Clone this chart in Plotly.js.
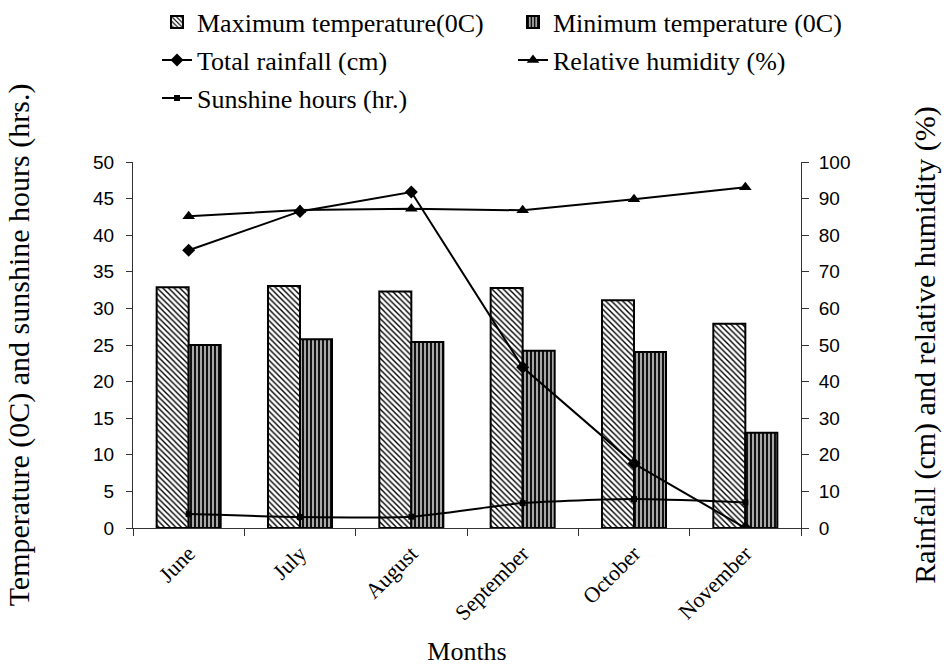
<!DOCTYPE html>
<html>
<head>
<meta charset="utf-8">
<script src="https://cdn.plot.ly/plotly-3.0.1.min.js"></script>
<style>html,body{margin:0;padding:0;background:#fff;}#chart{width:949px;height:666px;}</style>
</head>
<body>
<div id="chart"></div>
<script>
const months = ["June", "July", "August", "September", "October", "November"];
const maxTemp = [32.9, 33.05, 32.3, 32.8, 31.1, 27.9];
const minTemp = [25.0, 25.8, 25.4, 24.2, 24.05, 13.0];
const rainfall = [75.9, 86.5, 91.8, 43.9, 17.6, 0];
const humidity = [85.2, 86.9, 87.2, 86.8, 89.8, 93.1];
const sunshine = [1.9, 1.5, 1.55, 3.4, 3.95, 3.5];

const serif = "'Liberation Serif', 'Times New Roman', serif";
const sans = "'Liberation Sans', Arial, sans-serif";

const traces = [
  {type: "bar", name: "Maximum temperature(0C)", x: months, y: maxTemp, yaxis: "y", legend: "legend",
   marker: {color: "#ffffff", line: {color: "#000", width: 2},
            pattern: {shape: "\\", fgcolor: "#000", bgcolor: "#ffffff", size: 4, solidity: 0.35}}},
  {type: "bar", name: "Minimum temperature (0C)", x: months, y: minTemp, yaxis: "y", legend: "legend2",
   marker: {color: "#999", line: {color: "#000", width: 2},
            pattern: {shape: "|", fgcolor: "#000", bgcolor: "#a8a8a8", size: 4, solidity: 0.45}}},
  {type: "scatter", mode: "lines+markers", name: "Total rainfall (cm)", x: months, y: rainfall, yaxis: "y2", legend: "legend3",
   line: {color: "#000", width: 2}, marker: {symbol: "diamond", size: 10, color: "#000"}},
  {type: "scatter", mode: "lines+markers", name: "Relative humidity (%)", x: months, y: humidity, yaxis: "y2", legend: "legend4",
   line: {color: "#000", width: 2}, marker: {symbol: "triangle-up", size: 11, color: "#000"}},
  {type: "scatter", mode: "lines+markers", name: "Sunshine hours (hr.)", x: months, y: sunshine, yaxis: "y", legend: "legend5",
   line: {color: "#000", width: 2, shape: "spline", smoothing: 0.6}, marker: {symbol: "square", size: 6, color: "#000"}}
];

const legendBase = {
  orientation: "h", xanchor: "left", yanchor: "middle", xref: "container", yref: "container",
  font: {family: serif, size: 26, color: "#000"},
  bgcolor: "rgba(0,0,0,0)", itemclick: false
};
const col1 = 157 / 949, col2 = 513 / 949;
const row1 = 1 - 22 / 666, row2 = 1 - 60 / 666, row3 = 1 - 98 / 666;

const layout = {
  width: 949, height: 666,
  margin: {l: 133, r: 148, t: 161.5, b: 138},
  paper_bgcolor: "#fff", plot_bgcolor: "#fff",
  barmode: "group", bargap: 0.425, bargroupgap: 0,
  showlegend: true,
  legend: Object.assign({}, legendBase, {x: col1, y: row1}),
  legend2: Object.assign({}, legendBase, {x: col2, y: row1}),
  legend3: Object.assign({}, legendBase, {x: col1, y: row2}),
  legend4: Object.assign({}, legendBase, {x: col2, y: row2}),
  legend5: Object.assign({}, legendBase, {x: col1, y: row3}),
  xaxis: {
    type: "category", showline: true, linecolor: "#333", linewidth: 1,
    ticks: "outside", tickson: "boundaries", ticklen: 7, tickcolor: "#333",
    tickangle: -45, tickfont: {family: serif, size: 22, color: "#000"}, ticklabelstandoff: 3,
    showgrid: false, zeroline: false,
    title: {text: "Months", font: {family: serif, size: 26, color: "#000"}, standoff: 35}
  },
  yaxis: {
    range: [0, 50], dtick: 5, showline: true, linecolor: "#333", linewidth: 1,
    ticks: "outside", ticklen: 6, tickcolor: "#333",
    tickfont: {family: sans, size: 19, color: "#000"}, ticklabelstandoff: 8,
    showgrid: false, zeroline: false,
    title: {text: "Temperature (0C) and sunshine hours (hrs.)", font: {family: serif, size: 30, color: "#000"}, standoff: 54}
  },
  yaxis2: {
    range: [0, 100], dtick: 10, overlaying: "y", side: "right", showline: true, linecolor: "#333", linewidth: 1,
    ticks: "outside", ticklen: 7, tickcolor: "#333",
    tickfont: {family: sans, size: 19, color: "#000"}, ticklabelstandoff: 6,
    showgrid: false, zeroline: false,
    title: {text: "Rainfall (cm) and relative humidity (%)", font: {family: serif, size: 30, color: "#000"}, standoff: 64}
  }
};

Plotly.newPlot("chart", traces, layout, {displayModeBar: false, staticPlot: true});
</script>
</body>
</html>
